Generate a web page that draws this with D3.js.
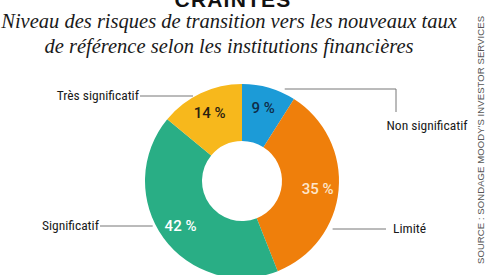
<!DOCTYPE html>
<html>
<head>
<meta charset="utf-8">
<script src="https://cdn.jsdelivr.net/npm/d3@7"></script>
<style>
  body { margin: 0; background: #fff; }
  svg { display: block; }
</style>
</head>
<body>
<div id="container"></div>
<script>
/* DATA */
const categories = ["Non significatif", "Limité", "Significatif", "Très significatif"];
const values = [9, 35, 42, 14];
const colors = ["#1c9bd7", "#ef7f0b", "#29ae85", "#f7b81c"];
const valueColors = ["#0f2c48", "#fde6cc", "#ffffff", "#2a2111"];

/* CONSTANTS */
const width = 490, height = 275;
const cx = 242, cy = 181;
const outerR = 97, innerR = 40;

const svg = d3.select("#container").append("svg")
  .attr("width", width).attr("height", height);

// title (cut at top, like the original)
svg.append("text")
  .attr("x", 233).attr("y", 7)
  .attr("text-anchor", "middle")
  .attr("font-family", "Liberation Sans, Arial, sans-serif")
  .attr("font-weight", "bold")
  .attr("font-size", 21)
  .attr("letter-spacing", 1.2)
  .attr("fill", "#111")
  .text("CRAINTES");

const subtitle = ["Niveau des risques de transition vers les nouveaux taux",
                  "de référence selon les institutions financières"];
svg.selectAll("text.sub").data(subtitle).join("text")
  .attr("class", "sub")
  .attr("x", 229)
  .attr("y", (d, i) => 28 + i * 25)
  .attr("text-anchor", "middle")
  .attr("font-family", "Liberation Serif, serif")
  .attr("font-style", "italic")
  .attr("font-size", 20.5)
  .attr("fill", "#1a1a1a")
  .text(d => d);

// source
svg.append("text")
  .attr("transform", "translate(484,140) rotate(-90)")
  .attr("text-anchor", "middle")
  .attr("font-family", "Liberation Sans, Arial, sans-serif")
  .attr("font-size", 9.5)
  .attr("textLength", 248)
  .attr("lengthAdjust", "spacing")
  .attr("fill", "#555")
  .text("SOURCE : SONDAGE MOODY'S INVESTOR SERVICES");

/* PIE */
const pie = d3.pie().sort(null).value(d => d);
const arcs = pie(values);
const arc = d3.arc().innerRadius(innerR).outerRadius(outerR);
const labelArc = d3.arc().innerRadius(76).outerRadius(76);

const g = svg.append("g").attr("transform", `translate(${cx},${cy})`);

g.selectAll("path").data(arcs).join("path")
  .attr("d", arc)
  .attr("fill", (d, i) => colors[i]);

g.selectAll("text.val").data(arcs).join("text")
  .attr("class", "val")
  .attr("transform", d => `translate(${labelArc.centroid(d)})`)
  .attr("text-anchor", "middle")
  .attr("dy", "0.36em")
  .attr("font-family", "Roboto, Liberation Sans, sans-serif")
  .attr("font-weight", 500)
  .attr("font-size", 15)
  .attr("fill", (d, i) => valueColors[i])
  .text(d => d.data + " %");

/* LEADER LINES + CATEGORY LABELS */
const leaderAngle = [28, 100, 247, 330];
const leaderR = [91, 92, 97, 98];
const labelX = [396, 386, 100, 140];
const labelY = [89, 229, 226, 96];
const textPos = [[427, 130, "middle"], [393, 233, "start"], [99, 230, "end"], [139, 100, "end"]];

const toXY = (a, r) => [cx + r * Math.sin(a * Math.PI / 180), cy - r * Math.cos(a * Math.PI / 180)];

categories.forEach((c, i) => {
  const s = toXY(leaderAngle[i], leaderR[i]);
  const pts = i === 0
    ? [[s[0], labelY[i]], [labelX[i], labelY[i]], [labelX[i], 112]]
    : [[s[0], labelY[i]], [labelX[i], labelY[i]]];
  svg.append("path")
    .attr("d", d3.line()(pts))
    .attr("fill", "none")
    .attr("stroke", "#777")
    .attr("stroke-width", 1);
  svg.append("text")
    .attr("x", textPos[i][0]).attr("y", textPos[i][1])
    .attr("text-anchor", textPos[i][2])
    .attr("font-family", "Liberation Sans Narrow, Roboto Condensed, Liberation Sans, sans-serif")
    .attr("font-stretch", "condensed")
    .attr("font-size", 13.5)
    .attr("fill", "#1a1a1a")
    .text(c);
});
</script>
</body>
</html>
